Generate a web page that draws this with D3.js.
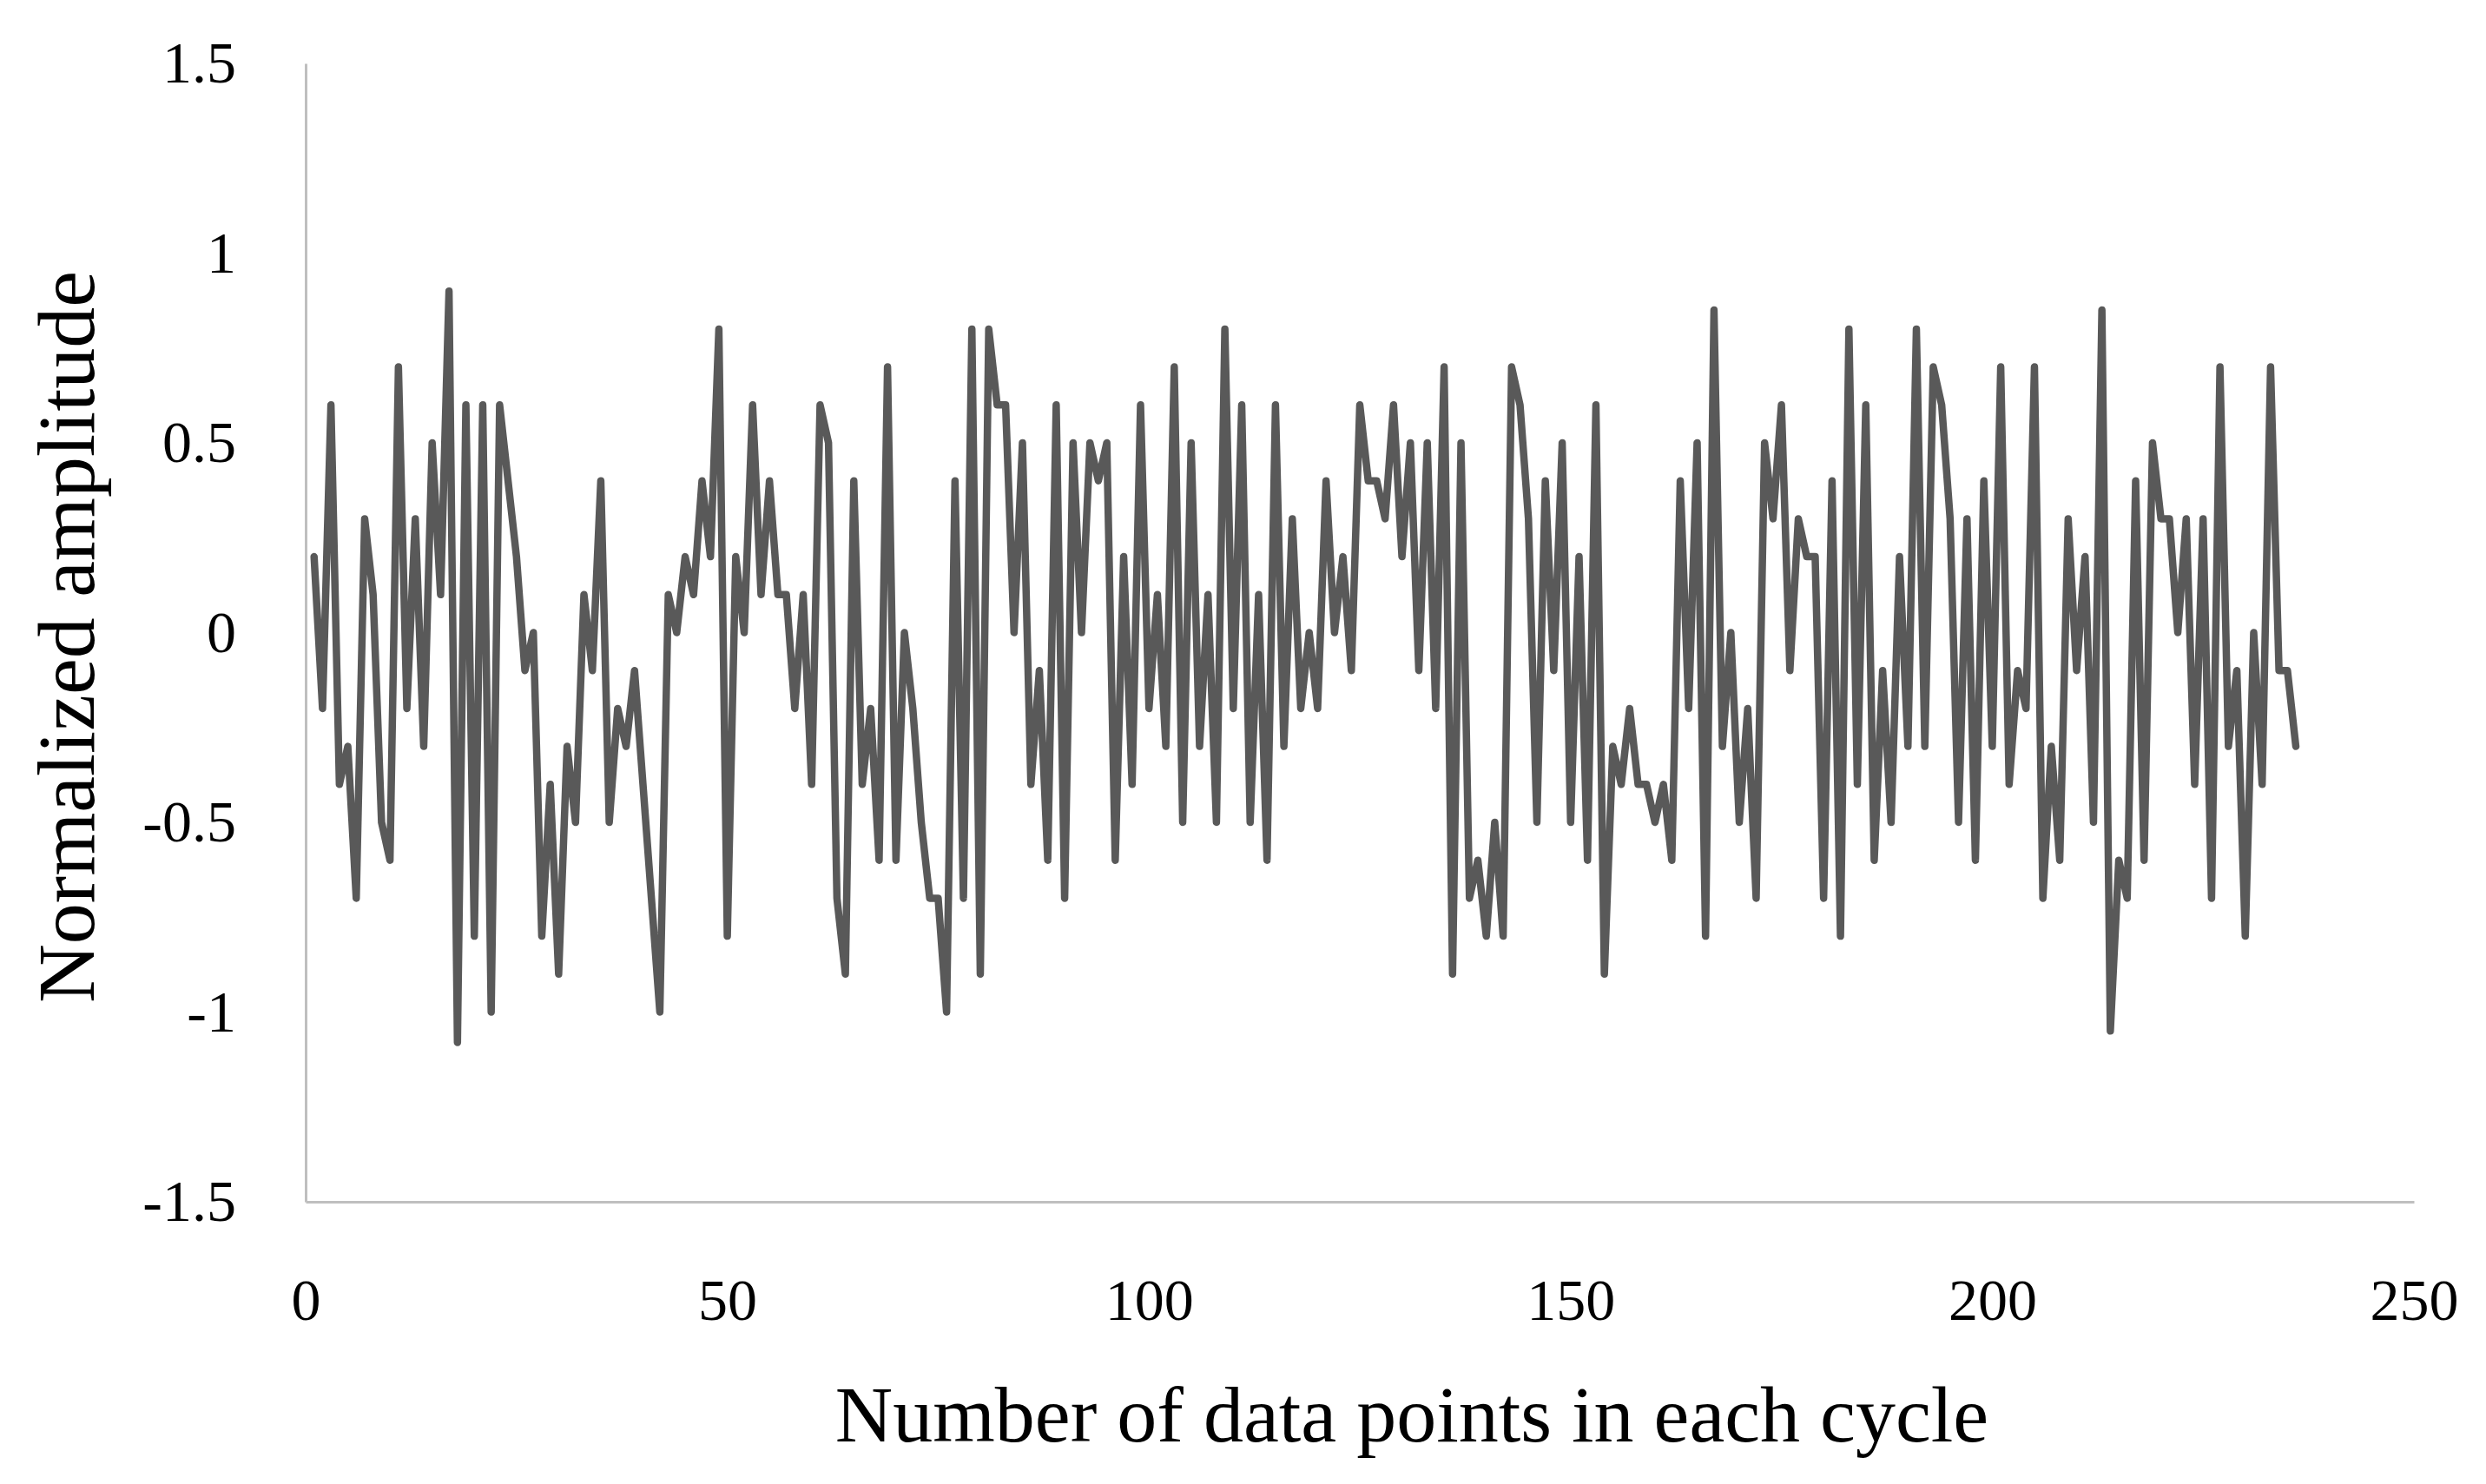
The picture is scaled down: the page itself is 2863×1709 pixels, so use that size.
<!DOCTYPE html>
<html>
<head>
<meta charset="utf-8">
<script src="https://cdn.jsdelivr.net/npm/d3@7"></script>
<style>
  body { margin: 0; background: #fff; }
  text { font-family: "Liberation Serif", "DejaVu Serif", serif; fill: #000; }
</style>
</head>
<body>
<div id="chart"></div>
<script>
// Values, one per data point (x = 1..236)
var amplitude = [
  0.2, -0.2, 0.6, -0.4, -0.3, -0.7, 0.3, 0.1, -0.5, -0.6,
  0.7, -0.2, 0.3, -0.3, 0.5, 0.1, 0.9, -1.08, 0.6, -0.8,
  0.6, -1.0, 0.6, 0.4, 0.2, -0.1, 0, -0.8, -0.4, -0.9,
  -0.3, -0.5, 0.1, -0.1, 0.4, -0.5, -0.2, -0.3, -0.1, -0.4,
  -0.7, -1.0, 0.1, 0, 0.2, 0.1, 0.4, 0.2, 0.8, -0.8,
  0.2, 0, 0.6, 0.1, 0.4, 0.1, 0.1, -0.2, 0.1, -0.4,
  0.6, 0.5, -0.7, -0.9, 0.4, -0.4, -0.2, -0.6, 0.7, -0.6,
  0, -0.2, -0.5, -0.7, -0.7, -1.0, 0.4, -0.7, 0.8, -0.9,
  0.8, 0.6, 0.6, 0, 0.5, -0.4, -0.1, -0.6, 0.6, -0.7,
  0.5, 0, 0.5, 0.4, 0.5, -0.6, 0.2, -0.4, 0.6, -0.2,
  0.1, -0.3, 0.7, -0.5, 0.5, -0.3, 0.1, -0.5, 0.8, -0.2,
  0.6, -0.5, 0.1, -0.6, 0.6, -0.3, 0.3, -0.2, 0, -0.2,
  0.4, 0, 0.2, -0.1, 0.6, 0.4, 0.4, 0.3, 0.6, 0.2,
  0.5, -0.1, 0.5, -0.2, 0.7, -0.9, 0.5, -0.7, -0.6, -0.8,
  -0.5, -0.8, 0.7, 0.6, 0.3, -0.5, 0.4, -0.1, 0.5, -0.5,
  0.2, -0.6, 0.6, -0.9, -0.3, -0.4, -0.2, -0.4, -0.4, -0.5,
  -0.4, -0.6, 0.4, -0.2, 0.5, -0.8, 0.85, -0.3, 0, -0.5,
  -0.2, -0.7, 0.5, 0.3, 0.6, -0.1, 0.3, 0.2, 0.2, -0.7,
  0.4, -0.8, 0.8, -0.4, 0.6, -0.6, -0.1, -0.5, 0.2, -0.3,
  0.8, -0.3, 0.7, 0.6, 0.3, -0.5, 0.3, -0.6, 0.4, -0.3,
  0.7, -0.4, -0.1, -0.2, 0.7, -0.7, -0.3, -0.6, 0.3, -0.1,
  0.2, -0.5, 0.85, -1.05, -0.6, -0.7, 0.4, -0.6, 0.5, 0.3,
  0.3, 0, 0.3, -0.4, 0.3, -0.7, 0.7, -0.3, -0.1, -0.8,
  0, -0.4, 0.7, -0.1, -0.1, -0.3
];
var xTicks = [0, 50, 100, 150, 200, 250];
var yTicks = [-1.5, -1, -0.5, 0, 0.5, 1, 1.5];
var xTitle = "Number of data points in each cycle";
var yTitle = "Normalized amplitude";

var svgWidth = 2863;
var svgHeight = 1709;
var margin = { top: 73, right: 83, bottom: 325, left: 352 };
var width = svgWidth - margin.left - margin.right;
var height = svgHeight - margin.top - margin.bottom;

var svg = d3.select("#chart").append("svg")
  .attr("width", svgWidth)
  .attr("height", svgHeight);

var chartGroup = svg.append("g")
  .attr("transform", `translate(${margin.left}, ${margin.top})`);

var xScale = d3.scaleLinear().domain([0, 250]).range([0, width]);
var yScale = d3.scaleLinear().domain([-1.5, 1.5]).range([height, 0]);

// axes: plain grey lines, no tick marks; hyphen for minus like the original
var bottomAxis = d3.axisBottom(xScale).tickValues(xTicks).tickSize(0).tickPadding(88);
var leftAxis = d3.axisLeft(yScale).tickValues(yTicks).tickSize(0).tickPadding(80)
  .tickFormat(d => String(d));

var xAxis = chartGroup.append("g")
  .attr("transform", `translate(0, ${height})`)
  .call(bottomAxis);
var yAxis = chartGroup.append("g").call(leftAxis);

[xAxis, yAxis].forEach(function (ax) {
  ax.select(".domain").attr("stroke", "#bfbfbf").attr("stroke-width", 3);
  ax.selectAll("text")
    .style("font-family", "'Liberation Serif', 'DejaVu Serif', serif")
    .style("font-size", "68px")
    .attr("fill", "#000");
});

// the signal
var line = d3.line()
  .x((d, i) => xScale(i + 1))
  .y(d => yScale(d));

chartGroup.append("path")
  .datum(amplitude)
  .attr("fill", "none")
  .attr("stroke", "#595959")
  .attr("stroke-width", 8.5)
  .attr("stroke-linejoin", "round")
  .attr("stroke-linecap", "round")
  .attr("d", line);

// axis titles
svg.append("text")
  .attr("x", margin.left + width / 2 + 60)
  .attr("y", 1660)
  .attr("text-anchor", "middle")
  .style("font-size", "92px")
  .text(xTitle);

svg.append("text")
  .attr("transform", `translate(108, ${margin.top + height / 2 + 5}) rotate(-90)`)
  .attr("text-anchor", "middle")
  .style("font-size", "94px")
  .text(yTitle);
</script>
</body>
</html>
